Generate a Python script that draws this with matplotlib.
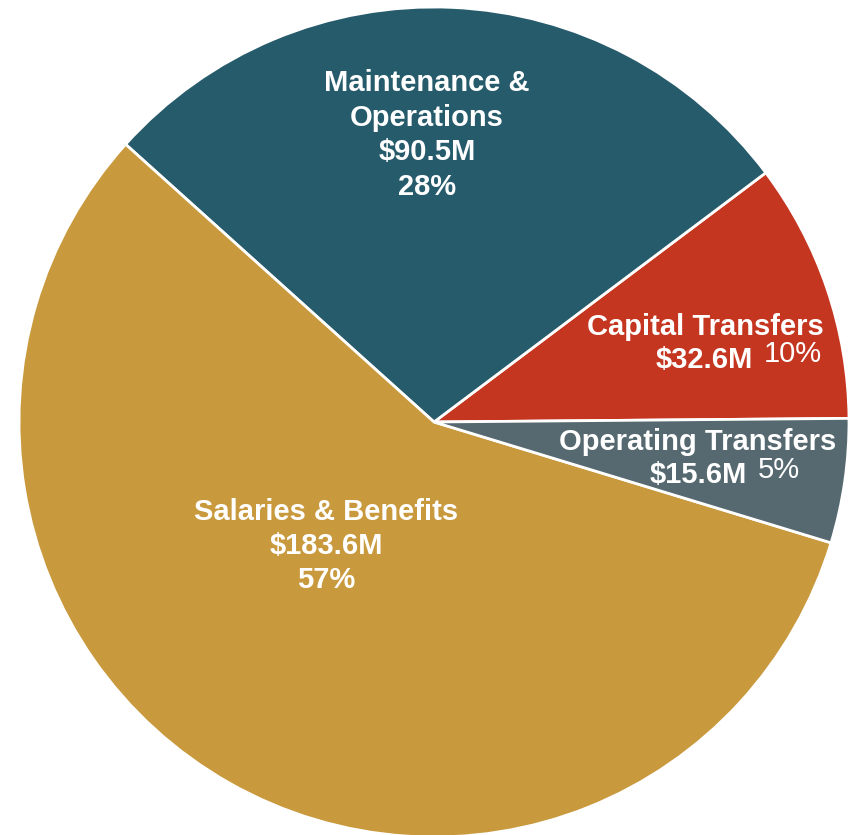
import matplotlib
matplotlib.use("Agg")
from matplotlib import pyplot as plt

# budget by category, $M
categories = ['Capital Transfers', 'Maintenance &\nOperations', 'Salaries & Benefits', 'Operating Transfers']
amounts = [32.6, 90.5, 183.6, 15.6]
colors = ['#C53621', '#265B6B', '#C9993D', '#566970']

plt.rcParams['font.family'] = ['Liberation Sans', 'DejaVu Sans']

W, H = 856, 835
CX, CY, R = 434, 422, 415  # pie centre / radius in pixels

fig = plt.figure(figsize=(W / 100, H / 100), dpi=100)
ax = fig.add_axes([0, 0, 1, 1])
ax.pie(amounts, colors=colors, startangle=0.5, counterclock=True, radius=1,
       wedgeprops=dict(edgecolor='white', linewidth=2))
ax.set_xlim(-CX / R, (W - CX) / R)
ax.set_ylim(-(H - CY) / R, CY / R)
ax.set_aspect('auto')
ax.axis('off')

total = sum(amounts)
pcts = ['%d%%' % round(a / total * 100) for a in amounts]
vals = ['$%.1fM' % a for a in amounts]

FS = 21
txt = dict(color='white', fontsize=FS, fontweight='bold', ha='center', va='center')
ptxt = dict(color='white', fontsize=FS, ha='center', va='center')

# stacked labels (name / value / pct)
ax.text(-0.017, 0.692, categories[1] + '\n' + vals[1] + '\n' + pcts[1], linespacing=1.3, **txt)
ax.text(-0.260, -0.299, categories[2] + '\n' + vals[2] + '\n' + pcts[2], linespacing=1.28, **txt)

# side labels (name, then value + pct on one line)
ax.text(0.653, 0.229, categories[0], **txt)
ax.text(0.651, 0.149, vals[0], **txt)
ax.text(0.864, 0.163, pcts[0], **ptxt)

ax.text(0.636, -0.048, categories[3], **txt)
ax.text(0.636, -0.128, vals[3], **txt)
ax.text(0.831, -0.116, pcts[3], **ptxt)

fig.savefig('out.png', dpi=100, facecolor='white')
